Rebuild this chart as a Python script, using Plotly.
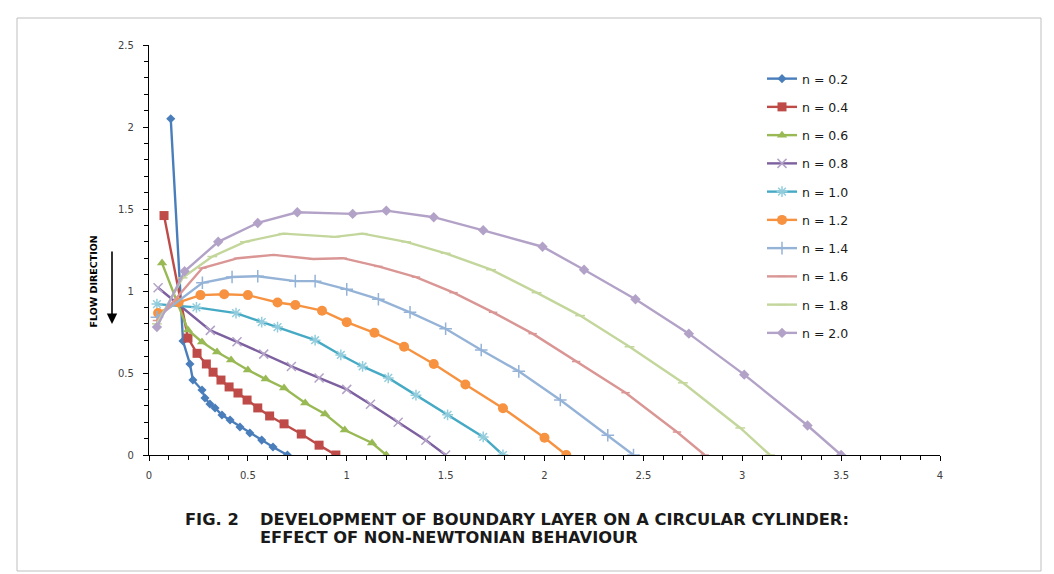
import plotly.graph_objects as go

# ---- data ----
labels = ["n = 0.2", "n = 0.4", "n = 0.6", "n = 0.8", "n = 1.0",
          "n = 1.2", "n = 1.4", "n = 1.6", "n = 1.8", "n = 2.0"]

n02_x = [0.11, 0.172, 0.207, 0.222, 0.268, 0.283, 0.308, 0.334, 0.369, 0.41, 0.46, 0.51, 0.57, 0.627, 0.70]
n02_y = [2.05, 0.695, 0.555, 0.457, 0.396, 0.348, 0.311, 0.287, 0.244, 0.213, 0.171, 0.134, 0.091, 0.049, 0.0]

n04_x = [0.076, 0.197, 0.243, 0.29, 0.324, 0.364, 0.405, 0.45, 0.496, 0.55, 0.61, 0.683, 0.77, 0.86, 0.945]
n04_y = [1.46, 0.713, 0.62, 0.555, 0.505, 0.457, 0.415, 0.378, 0.335, 0.287, 0.238, 0.19, 0.128, 0.06, 0.0]

n06_x = [0.066, 0.197, 0.268, 0.344, 0.415, 0.50, 0.59, 0.683, 0.79, 0.89, 0.99, 1.128, 1.20]
n06_y = [1.17, 0.762, 0.689, 0.628, 0.579, 0.518, 0.463, 0.409, 0.317, 0.25, 0.152, 0.073, 0.0]

n08_x = [0.046, 0.31, 0.445, 0.58, 0.72, 0.86, 1.00, 1.12, 1.26, 1.40, 1.50]
n08_y = [1.02, 0.76, 0.69, 0.615, 0.54, 0.47, 0.40, 0.31, 0.20, 0.09, 0.0]

n10_x = [0.04, 0.24, 0.44, 0.57, 0.65, 0.84, 0.97, 1.08, 1.21, 1.35, 1.51, 1.69, 1.79]
n10_y = [0.92, 0.90, 0.865, 0.81, 0.78, 0.70, 0.61, 0.54, 0.47, 0.365, 0.245, 0.11, 0.0]

n12_x = [0.046, 0.15, 0.26, 0.38, 0.50, 0.65, 0.74, 0.875, 1.00, 1.14, 1.29, 1.44, 1.60, 1.79, 2.00, 2.11]
n12_y = [0.866, 0.93, 0.975, 0.98, 0.975, 0.93, 0.915, 0.88, 0.81, 0.745, 0.66, 0.555, 0.43, 0.285, 0.105, 0.0]

n14_x = [0.04, 0.27, 0.42, 0.55, 0.74, 0.84, 1.00, 1.16, 1.32, 1.50, 1.68, 1.87, 2.08, 2.32, 2.45]
n14_y = [0.84, 1.05, 1.085, 1.09, 1.06, 1.06, 1.01, 0.95, 0.87, 0.77, 0.64, 0.51, 0.335, 0.12, 0.0]

n16_x = [0.04, 0.27, 0.45, 0.63, 0.83, 0.98, 1.16, 1.35, 1.54, 1.74, 1.94, 2.16, 2.41, 2.67, 2.81]
n16_y = [0.82, 1.14, 1.20, 1.22, 1.195, 1.20, 1.15, 1.085, 0.99, 0.87, 0.74, 0.57, 0.38, 0.14, 0.0]

n18_x = [0.04, 0.17, 0.32, 0.485, 0.68, 0.94, 1.08, 1.30, 1.50, 1.73, 1.96, 2.18, 2.43, 2.70, 2.99, 3.14]
n18_y = [0.80, 1.08, 1.21, 1.30, 1.35, 1.33, 1.35, 1.30, 1.23, 1.13, 0.99, 0.85, 0.66, 0.44, 0.165, 0.0]

n20_x = [0.04, 0.18, 0.35, 0.55, 0.75, 1.03, 1.20, 1.44, 1.69, 1.99, 2.20, 2.46, 2.73, 3.01, 3.33, 3.50]
n20_y = [0.78, 1.12, 1.30, 1.415, 1.48, 1.47, 1.49, 1.45, 1.37, 1.27, 1.13, 0.95, 0.74, 0.49, 0.18, 0.0]

xs = [n02_x, n04_x, n06_x, n08_x, n10_x, n12_x, n14_x, n16_x, n18_x, n20_x]
ys = [n02_y, n04_y, n06_y, n08_y, n10_y, n12_y, n14_y, n16_y, n18_y, n20_y]

line_colors = ["#4A7EBB", "#BE4B48", "#98B954", "#7D60A0", "#46AAC5",
               "#F69240", "#95B3D7", "#D99694", "#C3D69B", "#B3A2C7"]
marker_colors = ["#4A7EBB", "#BE4B48", "#98B954", "#B3A2C7", "#93CDDD",
                 "#F69240", "#95B3D7", "#D99694", "#C3D69B", "#B3A2C7"]
symbols = ["diamond", "square", "triangle-up", "x-thin-open", "asterisk-open",
           "circle", "cross-thin-open", "line-ew-open", "line-ew-open", "diamond"]
sizes = [7, 9, 9, 9, 9, 10, 9, 6, 7, 8]

fig = go.Figure()
for i in range(len(labels)):
    fig.add_trace(go.Scatter(
        x=xs[i], y=ys[i], mode="lines+markers", name=labels[i],
        legendgroup=labels[i],
        line=dict(color=line_colors[i], width=2.4),
        marker=dict(symbol=symbols[i], size=sizes[i], color=marker_colors[i],
                    line=dict(color=marker_colors[i], width=1.5 if "open" in symbols[i] else 0)),
    ))

L, R, T, B = 149, 114, 45, 119
W, H = 1054, 574
pw, ph = W - L - R, H - T - B

def px(xp):
    return (xp - L) / pw

def py(yp):
    return (H - B - yp) / ph

axis_common = dict(showgrid=False, zeroline=False, showline=True, linecolor="#000000",
                   linewidth=1.3, ticks="outside", ticklen=5, tickwidth=1.2,
                   tickcolor="#000000",
                   tickfont=dict(family="DejaVu Sans", size=10, color="#404040"))

fig.update_xaxes(range=[0, 4], dtick=0.5, tick0=0, ticklabelstandoff=6,
                 minor=dict(dtick=0.1, ticks="outside", ticklen=4, tickcolor="#000000", tickwidth=1),
                 **axis_common)
fig.update_yaxes(range=[0, 2.5], dtick=0.5, tick0=0, ticklabelstandoff=7,
                 minor=dict(dtick=0.1, ticks="outside", ticklen=4, tickcolor="#000000", tickwidth=1),
                 **axis_common)

title_font = dict(family="DejaVu Sans", size=16.3, color="#1a1a1a")

fig.update_layout(
    width=W, height=H,
    margin=dict(l=L, r=R, t=T, b=B),
    paper_bgcolor="#FFFFFF", plot_bgcolor="#FFFFFF",
    font=dict(family="DejaVu Sans", color="#1a1a1a"),
    legend=dict(x=px(762), y=py(64), xanchor="left", yanchor="top",
                font=dict(family="DejaVu Sans", size=12.5, color="#1a1a1a"),
                itemwidth=30, tracegroupgap=9, bgcolor="rgba(0,0,0,0)"),
    shapes=[dict(type="rect", xref="paper", yref="paper",
                 x0=px(17), x1=px(1041), y0=py(571), y1=py(18),
                 line=dict(color="#BFBFBF", width=1))],
    annotations=[
        dict(xref="paper", yref="paper", x=px(85), y=py(282), text="<b>FLOW DIRECTION</b>",
             textangle=-90, showarrow=False, font=dict(family="DejaVu Sans", size=9.5, color="#000000")),
        dict(xref="paper", yref="paper", x=px(112), y=py(324), ax=0, ay=-74,
             showarrow=True, arrowhead=2, arrowsize=1.3, arrowwidth=1.6, arrowcolor="#000000",
             text=""),
        dict(xref="paper", yref="paper", x=px(183), y=py(519), xanchor="left", yanchor="middle",
             text="<b>FIG. 2</b>", showarrow=False, font=title_font),
        dict(xref="paper", yref="paper", x=px(258), y=py(519), xanchor="left", yanchor="middle",
             text="<b>DEVELOPMENT OF BOUNDARY LAYER ON A CIRCULAR CYLINDER:</b>",
             showarrow=False, font=title_font),
        dict(xref="paper", yref="paper", x=px(258), y=py(537), xanchor="left", yanchor="middle",
             text="<b>EFFECT OF NON-NEWTONIAN BEHAVIOUR</b>",
             showarrow=False, font=title_font),
    ],
)

fig.write_html("out.html")
